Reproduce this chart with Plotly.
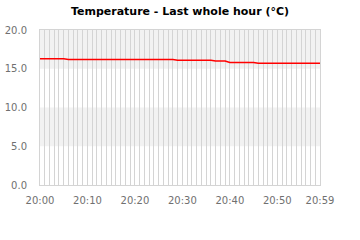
import plotly.graph_objects as go

minutes = list(range(60))
temps = ([16.3] * 6 + [16.2] * 23 + [16.1] * 8 + [16.0] * 3 + [15.8] * 6 + [15.7] * 14)
x_tickvals = [0, 10, 20, 30, 40, 50, 59]
x_ticktext = ["20:00", "20:10", "20:20", "20:30", "20:40", "20:50", "20:59"]
y_tickvals = [0, 5, 10, 15, 20]
bands = [(15, 20), (5, 10)]

fig = go.Figure()
fig.add_trace(go.Scatter(x=minutes, y=temps, mode="lines",
                         line=dict(color="#ff0000", width=1.5), hoverinfo="skip"))

for y0, y1 in bands:
    fig.add_shape(type="rect", xref="x domain", yref="y", x0=0, x1=1, y0=y0, y1=y1,
                  fillcolor="#f2f2f2", line=dict(width=0), layer="below")

font = dict(family="DejaVu Sans, Verdana, sans-serif", size=10, color="#707070")
fig.update_layout(
    width=360, height=240,
    margin=dict(l=40, r=40, t=30, b=55),
    paper_bgcolor="white", plot_bgcolor="white",
    showlegend=False,
    title=dict(text="<b>Temperature - Last whole hour (°C)</b>", x=0.5, xanchor="center",
               y=1 - 11 / 240, yanchor="middle",
               font=dict(family="DejaVu Sans, Verdana, sans-serif", size=11, color="#000000")),
    font=font,
)
fig.update_xaxes(range=[0, 59], tickvals=x_tickvals, ticktext=x_ticktext,
                 showgrid=True, gridcolor="#d4d4d4", gridwidth=1,
                 minor=dict(dtick=1, tick0=0, showgrid=True, gridcolor="#d4d4d4", gridwidth=1),
                 showline=True, linecolor="#d4d4d4", mirror=True, zeroline=False,
                 ticks="", ticklabelstandoff=6, tickfont=font, fixedrange=True,
                 automargin=False)
fig.update_yaxes(range=[0, 20], tickvals=y_tickvals, tickformat=".1f",
                 showgrid=False, showline=True, linecolor="#d4d4d4", mirror=True,
                 zeroline=False, ticks="", ticklabelstandoff=10, tickfont=font, fixedrange=True,
                 automargin=False)

fig.write_html("out.html", config={"displayModeBar": False})
